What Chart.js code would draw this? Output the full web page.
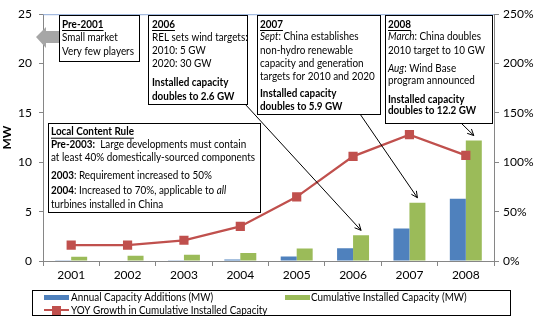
<!DOCTYPE html>
<html>
<head>
<meta charset="utf-8">
<script src="https://cdn.jsdelivr.net/npm/chart.js@4/dist/chart.umd.min.js"></script>
<style>
body { margin: 0; background: #fff; }
canvas { display: block; }
</style>
</head>
<body>
<canvas id="chart" width="537" height="324"></canvas>
<script>
const years = ['2001', '2002', '2003', '2004', '2005', '2006', '2007', '2008'];
const annualAdditions = [0.03, 0.05, 0.07, 0.15, 0.45, 1.3, 3.3, 6.3];
const cumulativeCapacity = [0.43, 0.53, 0.63, 0.8, 1.27, 2.6, 5.9, 12.2];
const yoyGrowth = [16, 16, 21, 35, 65, 106, 128, 107];
const mwTicks = [0, 5, 10, 15, 20, 25];
const pctTicks = [0, 50, 100, 150, 200, 250];

const FONT = 'Lato';
const AXIS = '#868686';
const SQUEEZE = 0.9; // Lato runs wider than the original Calibri

// text boxes: [x, y, w, h], text x, rows of [centre y, [[text, style]]]
const notes = [
    { box: [59, 15, 80, 46], tx: 62, rows: [
        [24, [['Pre-2001', 'bu']]],
        [37.5, [['Small market', '']]],
        [51, [['Very few players', '']]]
    ]},
    { box: [148, 15, 99, 89], tx: 152, rows: [
        [24, [['2006', 'bu']]],
        [37.3, [['REL sets wind targets:', '']]],
        [50.6, [['2010: 5 GW', '']]],
        [63.3, [['2020: 30 GW', '']]],
        [82.7, [['Installed capacity', 'b']]],
        [96, [['doubles to 2.6 GW', 'b']]]
    ]},
    { box: [257, 15, 123, 99], tx: 260, rows: [
        [24, [['2007', 'bu']]],
        [36.7, [['Sept', 'i'], [': China establishes', '']]],
        [50, [['non-hydro renewable', '']]],
        [63.3, [['capacity and generation', '']]],
        [76.7, [['targets for 2010 and 2020', '']]],
        [93, [['Installed capacity', 'b']]],
        [106.5, [['doubles to 5.9 GW', 'b']]]
    ]},
    { box: [385, 15, 107, 108], tx: 388, rows: [
        [24, [['2008', 'bu']]],
        [36.7, [['March', 'i'], [': China doubles', '']]],
        [50, [['2010 target to 10 GW', '']]],
        [68.3, [['Aug', 'i'], [': Wind Base', '']]],
        [80.7, [['program announced', '']]],
        [99, [['Installed capacity', 'b']]],
        [110.7, [['doubles to 12.2 GW', 'b']]]
    ]},
    { box: [48, 123, 212, 89], tx: 51, rows: [
        [131.7, [['Local Content Rule', 'bu']]],
        [144.3, [['Pre-2003:', 'b'], ['  Large developments must contain', '']]],
        [157.3, [['at least 40% domestically-sourced components', '']]],
        [175, [['2003', 'b'], [': Requirement increased to 50%', '']]],
        [190.7, [['2004', 'b'], [': Increased to 70%, applicable to ', ''], ['all', 'i']]],
        [204, [['turbines installed in China', '']]]
    ]}
];

// arrows: start point, index of the year the arrow points at
const arrows = [
    { from: [245, 104], year: 5 },
    { from: [360, 114], year: 6 },
    { from: [461, 123], year: 7 }
];

function drawArrow(ctx, x1, y1, x2, y2) {
    const a = Math.atan2(y2 - y1, x2 - x1);
    ctx.beginPath();
    ctx.moveTo(x1, y1);
    ctx.lineTo(x2, y2);
    ctx.moveTo(x2 - 7 * Math.cos(a - 0.45), y2 - 7 * Math.sin(a - 0.45));
    ctx.lineTo(x2, y2);
    ctx.lineTo(x2 - 7 * Math.cos(a + 0.45), y2 - 7 * Math.sin(a + 0.45));
    ctx.stroke();
}

// draws text squeezed sideways, returns the width used
function squeezedText(ctx, text, x, y) {
    ctx.save();
    ctx.translate(x, y);
    ctx.scale(SQUEEZE, 1);
    ctx.fillText(text, 0, 0);
    ctx.restore();
    return ctx.measureText(text).width * SQUEEZE;
}

const extras = {
    id: 'extras',
    beforeDatasetsDraw(chart) {
        const ctx = chart.ctx;
        const area = chart.chartArea;
        ctx.save();
        ctx.strokeStyle = '#8eaad8';
        ctx.lineWidth = 1;
        ctx.beginPath();
        ctx.moveTo(area.left, area.top + 0.5);
        ctx.lineTo(area.right, area.top + 0.5);
        ctx.stroke();
        ctx.restore();
    },
    afterDraw(chart) {
        const ctx = chart.ctx;
        ctx.save();

        // grey arrow pointing back before 2001
        ctx.fillStyle = '#a6a6a6';
        ctx.beginPath();
        ctx.moveTo(36, 37);
        ctx.lineTo(46, 27);
        ctx.lineTo(46, 31);
        ctx.lineTo(60, 31);
        ctx.lineTo(60, 43);
        ctx.lineTo(46, 43);
        ctx.lineTo(46, 48);
        ctx.closePath();
        ctx.fill();

        ctx.textBaseline = 'middle';
        ctx.textAlign = 'left';
        notes.forEach(n => {
            const b = n.box;
            ctx.fillStyle = '#fff';
            ctx.fillRect(b[0], b[1], b[2], b[3]);
            ctx.strokeStyle = '#000';
            ctx.lineWidth = 1;
            ctx.strokeRect(b[0] + 0.5, b[1] + 0.5, b[2], b[3]);
            ctx.fillStyle = '#000';
            n.rows.forEach(r => {
                let x = n.tx;
                r[1].forEach(seg => {
                    const s = seg[1];
                    ctx.font = (s.includes('i') ? 'italic ' : '') + (s.includes('b') ? 'bold ' : '') + '11px ' + FONT;
                    const w = squeezedText(ctx, seg[0], x, r[0]);
                    if (s.includes('u')) ctx.fillRect(x, r[0] + 6, w, 1);
                    x += w;
                });
            });
        });

        const bars = chart.getDatasetMeta(1).data;
        ctx.strokeStyle = '#000';
        ctx.lineWidth = 1;
        arrows.forEach(a => {
            const bar = bars[a.year];
            drawArrow(ctx, a.from[0], a.from[1], bar.x, bar.y - 5);
        });

        // legend
        ctx.strokeStyle = '#000';
        ctx.strokeRect(32.5, 290.5, 478, 25);
        const ds = chart.data.datasets;
        ctx.fillStyle = ds[0].backgroundColor;
        ctx.fillRect(44, 295, 25, 5);
        ctx.fillStyle = ds[1].backgroundColor;
        ctx.fillRect(285, 295, 25, 5);
        ctx.strokeStyle = ds[2].borderColor;
        ctx.lineWidth = 2;
        ctx.beginPath();
        ctx.moveTo(44, 310);
        ctx.lineTo(69, 310);
        ctx.stroke();
        ctx.fillStyle = ds[2].backgroundColor;
        ctx.fillRect(52, 306, 9, 9);
        ctx.fillStyle = '#000';
        ctx.font = '11px ' + FONT;
        squeezedText(ctx, ds[0].label, 71, 297.5);
        squeezedText(ctx, ds[1].label, 311, 297.5);
        squeezedText(ctx, ds[2].label, 71, 310.5);

        ctx.restore();
    }
};

const ctx = document.getElementById('chart').getContext('2d');
const chart = new Chart(ctx, {
    type: 'bar',
    data: {
        labels: years,
        datasets: [
            {
                label: 'Annual Capacity Additions (MW)',
                data: annualAdditions,
                backgroundColor: '#4f81bd',
                yAxisID: 'y',
                order: 2
            },
            {
                label: 'Cumulative Installed Capacity (MW)',
                data: cumulativeCapacity,
                backgroundColor: '#9bbb59',
                yAxisID: 'y',
                order: 2
            },
            {
                type: 'line',
                label: 'YOY Growth in Cumulative Installed Capacity',
                data: yoyGrowth,
                yAxisID: 'y1',
                borderColor: '#c0504d',
                backgroundColor: '#c0504d',
                borderWidth: 2.25,
                pointStyle: 'rect',
                pointRadius: 6.5,
                pointBorderWidth: 0,
                tension: 0,
                order: 1
            }
        ]
    },
    options: {
        responsive: false,
        animation: false,
        devicePixelRatio: 1,
        categoryPercentage: 0.567,
        barPercentage: 1,
        layout: { padding: { top: 11, bottom: 33, left: 0, right: 0 } },
        plugins: {
            legend: { display: false },
            tooltip: { enabled: false }
        },
        scales: {
            x: {
                afterFit: s => { s.height = 30; },
                border: { color: AXIS },
                grid: { drawOnChartArea: false, tickLength: 5, tickColor: AXIS, offset: true },
                ticks: { color: '#000', font: { family: FONT, size: 12 }, padding: 2 }
            },
            y: {
                position: 'left',
                min: 0,
                max: 25,
                afterFit: s => { s.width = 43; },
                afterBuildTicks: s => { s.ticks = mwTicks.map(v => ({ value: v })); },
                border: { color: AXIS },
                grid: { drawOnChartArea: false, tickLength: 4, tickColor: AXIS },
                ticks: { color: '#000', font: { family: FONT, size: 12 }, padding: 7 },
                title: { display: true, text: 'MW', color: '#000', font: { family: FONT, size: 12, weight: 'bold' }, padding: { top: 0, bottom: 0 } }
            },
            y1: {
                position: 'right',
                min: 0,
                max: 250,
                afterFit: s => { s.width = 43; },
                afterBuildTicks: s => { s.ticks = pctTicks.map(v => ({ value: v })); },
                border: { color: AXIS },
                grid: { drawOnChartArea: false, tickLength: 5, tickColor: AXIS },
                ticks: { color: '#000', font: { family: FONT, size: 12 }, padding: 4, callback: v => v + '%' }
            }
        }
    },
    plugins: [extras]
});
</script>
</body>
</html>
